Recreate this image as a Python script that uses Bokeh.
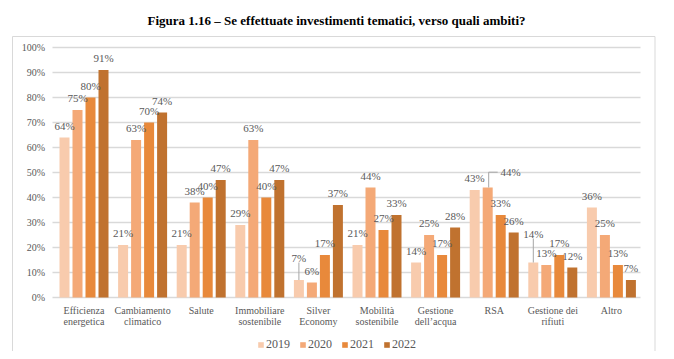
import numpy as np
import pandas as pd
from bokeh.plotting import figure
from bokeh.models import ColumnDataSource, Range1d, Legend, LegendItem
from bokeh.core.properties import value
from bokeh.embed import file_html
from bokeh.resources import INLINE

# ---------------- data ----------------
categories = [
    "Efficienza\nenergetica", "Cambiamento\nclimatico", "Salute",
    "Immobiliare\nsostenibile", "Silver\nEconomy", "Mobilità\nsostenibile",
    "Gestione\ndell\u2019acqua", "RSA", "Gestione dei\nrifiuti", "Altro",
]
years = ["2019", "2020", "2021", "2022"]
v2019 = [64, 21, 21, 29, 7, 21, 14, 43, 14, 36]
v2020 = [75, 63, 38, 63, 6, 44, 25, 44, 13, 25]
v2021 = [80, 70, 40, 40, 17, 27, 17, 33, 17, 13]
v2022 = [91, 74, 47, 47, 37, 33, 28, 26, 12, 7]
y_ticks = [0, 10, 20, 30, 40, 50, 60, 70, 80, 90, 100]
y_tick_labels = [f"{t}%" for t in y_ticks]
title_text = "Figura 1.16 \u2013 Se effettuate investimenti tematici, verso quali ambiti?"

series = [v2019, v2020, v2021, v2022]

# ---------------- style / layout ----------------
W, H = 660, 351
PX_X = 58.6          # pixels per category
PX_Y = 2.5           # pixels per percentage point
X0_PX = 83.5         # pixel x of first category centre
Y0_PX = 297.0        # pixel y of 0% (from top)
colors = ["#F8CBAD", "#F4A977", "#E8893B", "#C0722F"]
offsets_px = [-19.5, -6.5, 6.5, 19.5]
bar_w_px = 10.0
FONT = "Liberation Serif"
GREY = "#595959"
GRID = "#d9d9d9"

def px_x(px):      # pixel x -> data x
    return (px - X0_PX) / PX_X

def px_y(py):      # pixel y (from top) -> data y
    return (Y0_PX - py) / PX_Y

# label displacements for crowded labels: (category, series) -> (dx px, dy px up)
label_shift = {(4, 0): (0.0, 10.5), (7, 1): (23.0, 3.3), (8, 0): (0.0, 17.0)}

p = figure(
    width=W, height=H, output_backend="svg", toolbar_location=None,
    x_axis_type=None, y_axis_type=None, min_border=0,
    x_range=Range1d(px_x(0), px_x(W)), y_range=Range1d(px_y(H), px_y(0)),
    outline_line_color=None, background_fill_color="white",
    border_fill_color="white",
)
p.grid.visible = False

# outer border of chart area
bl, br, bt = px_x(12), px_x(654.5), px_y(36)
bb = px_y(H + 5)
p.line([bl, bl, br, br], [bb, bt, bt, bb], line_color=GRID, line_width=1)

# gridlines
gx0, gx1 = px_x(52), px_x(640)
p.segment(x0=[gx0] * len(y_ticks), x1=[gx1] * len(y_ticks), y0=y_ticks, y1=y_ticks,
          line_color=GRID, line_width=1.4)

# y tick labels
p.text(x=[px_x(44.5)] * len(y_ticks), y=y_ticks, text=y_tick_labels,
       text_font=value(FONT), text_font_size="10px", text_color=GREY,
       text_align="right", text_baseline="middle")

# bars
idx = np.arange(len(categories))
renderers = []
lab_x, lab_y, lab_t = [], [], []
lead_xs, lead_ys = [], []
for s, (yr, vals) in enumerate(zip(years, series)):
    xs = idx + offsets_px[s] / PX_X
    src = ColumnDataSource(pd.DataFrame({"x": xs, "top": vals}))
    r = p.vbar(x="x", top="top", width=bar_w_px / PX_X, bottom=0, source=src,
               fill_color=colors[s], line_color=None)
    renderers.append((yr, r))
    for c, v in enumerate(vals):
        dx, dy = label_shift.get((c, s), (0.0, 0.0))
        lx = xs[c] + dx / PX_X
        ly = v + (12.0 + dy) / PX_Y
        lab_x.append(lx)
        lab_y.append(ly)
        lab_t.append(f"{v}%")
        if (c, s) in label_shift:
            if dx == 0:
                lead_xs.append([xs[c], xs[c]])
                lead_ys.append([v, ly - 5.0 / PX_Y])
            else:
                lead_xs.append([xs[c] + 1.0 / PX_X, xs[c] + 1.0 / PX_X, lx - 13.0 / PX_X])
                lead_ys.append([v, ly, ly])

p.multi_line(xs=lead_xs, ys=lead_ys, line_color="#a6a6a6", line_width=1)

p.text(x=lab_x, y=lab_y, text=lab_t, text_font=value(FONT), text_font_size="11px",
       text_color=GREY, text_align="center", text_baseline="middle")

# category labels
p.text(x=list(idx), y=[px_y(304)] * len(categories), text=categories,
       text_font=value(FONT), text_font_size="10px", text_color=GREY,
       text_align="center", text_baseline="top", text_line_height=1.0)

# title
p.text(x=[px_x(336)], y=[px_y(19.5)], text=[title_text], text_font=value(FONT),
       text_font_size="13px", text_font_style="bold", text_color="black",
       text_align="center", text_baseline="middle")

legend = Legend(
    items=[LegendItem(label=yr, renderers=[r]) for yr, r in renderers],
    orientation="horizontal", location=(257, -1),
    glyph_width=7, glyph_height=7, label_standoff=2, spacing=9,
    padding=0, margin=0, border_line_color=None, background_fill_alpha=0,
    label_text_font=FONT, label_text_font_size="12px", label_text_color=GREY,
    label_height=12,
)
p.add_layout(legend)

open("out.html", "w").write(file_html(p, INLINE))
